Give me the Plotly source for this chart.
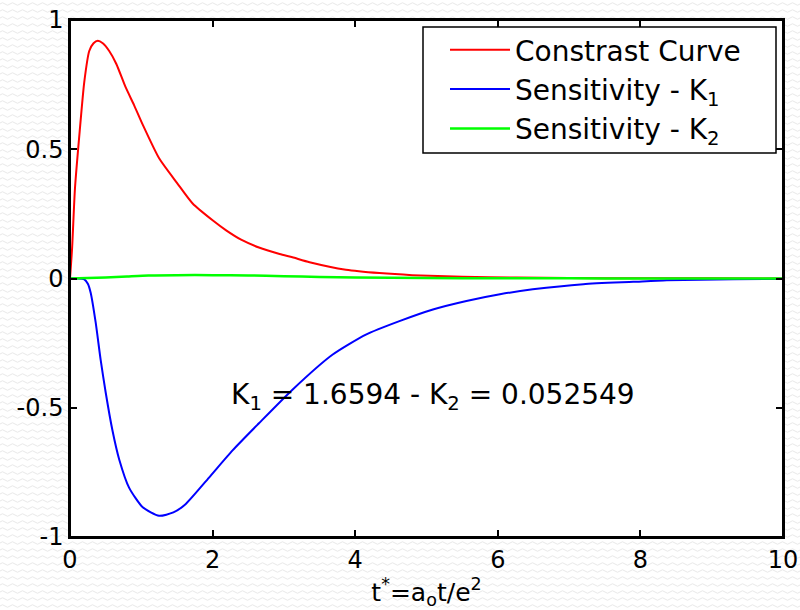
import base64
import plotly.graph_objects as go

# ---- data ----
t_contrast = [0, 0.03, 0.07, 0.136, 0.2, 0.27, 0.33, 0.39, 0.46, 0.55, 0.65, 0.78, 0.9, 1.02, 1.25,
              1.5, 1.72, 2.0, 2.19, 2.4, 2.65, 2.94, 3.12, 3.36, 3.87, 4.34, 4.8, 5.5, 6.26, 7, 8, 9, 10]
contrast = [0, 0.12, 0.35, 0.57, 0.76, 0.88, 0.91, 0.92, 0.91, 0.88, 0.83, 0.74, 0.67, 0.595, 0.465,
            0.37, 0.29, 0.225, 0.186, 0.15, 0.12, 0.095, 0.082, 0.063, 0.034, 0.021, 0.013, 0.0065,
            0.004, 0.002, 0.001, 0.0005, 0.0003]

t_k1 = [0, 0.1, 0.2, 0.25, 0.29, 0.36, 0.43, 0.5, 0.595, 0.69, 0.83, 1.02, 1.25, 1.45, 1.62, 1.95,
        2.28, 2.65, 3.12, 3.68, 4.15, 4.62, 5.09, 5.56, 6.03, 6.49, 7.2, 7.9, 8.37, 9.3, 10]
sens_k1 = [0, 0, -0.003, -0.02, -0.055, -0.17, -0.315, -0.44, -0.587, -0.70, -0.81, -0.885, -0.918,
           -0.905, -0.873, -0.77, -0.665, -0.56, -0.43, -0.295, -0.217, -0.165, -0.12, -0.087, -0.061,
           -0.042, -0.022, -0.013, -0.007, -0.003, -0.001]

t_k2 = [0, 0.5, 0.8, 1.1, 1.5, 2.0, 2.5, 3.0, 3.5, 4.0, 5.0, 6.0, 7.0, 8.0, 10]
sens_k2 = [0, 0.004, 0.008, 0.012, 0.013, 0.013, 0.012, 0.009, 0.006, 0.004, 0.002, 0.001, 0.0005,
           0.0002, 0]

series_names = ["Constrast Curve", "Sensitivity - K<sub>1</sub>", "Sensitivity - K<sub>2</sub>"]
x_ticks = [0, 2, 4, 6, 8, 10]
x_ticklabels = ["0", "2", "4", "6", "8", "10"]
y_ticks = [-1, -0.5, 0, 0.5, 1]
y_ticklabels = ["-1", "-0.5", "0", "0.5", "1"]
annotation_text = "K<sub>1</sub> = 1.6594 - K<sub>2</sub> = 0.052549"
x_title = "t<sup>*</sup>=a<sub>o</sub>t/e<sup>2</sup>"
x_title_sub = "o"

FONT = "DejaVu Sans, Arial, sans-serif"

W, H = 800, 610
L, R, T, B = 70, W - 783, 20, H - 537
pw, ph = W - L - R, H - T - B


def px_x(p):
    return (p - L) / pw


def px_y(p):
    return (H - B - p) / ph


# page background texture (wavy light grey pattern), shown through a transparent paper
svg = """<svg xmlns='http://www.w3.org/2000/svg' width='10' height='7'>
<rect width='10' height='7' fill='white'/>
<path d='M0,4 Q2.5,1.5 5,4 T10,4' fill='none' stroke='#e9e9e9' stroke-width='1'/></svg>"""
svg_uri = "data:image/svg+xml;base64," + base64.b64encode(svg.encode()).decode()

fig = go.Figure()
fig.add_trace(go.Scatter(x=t_contrast, y=contrast, mode="lines", name=series_names[0],
                         legendgroup="a",
                         line=dict(color="#ff0000", width=2, shape="spline", smoothing=0.6)))
fig.add_trace(go.Scatter(x=t_k1, y=sens_k1, mode="lines", name=series_names[1],
                         legendgroup="b",
                         line=dict(color="#0000ff", width=2, shape="spline", smoothing=0.6)))
fig.add_trace(go.Scatter(x=t_k2, y=sens_k2, mode="lines", name=series_names[2],
                         legendgroup="c",
                         line=dict(color="#00ff00", width=2.5, shape="spline", smoothing=0.6)))

# axes frame
fig.add_shape(type="rect", xref="paper", yref="paper", x0=0, x1=1, y0=0, y1=1,
              line=dict(color="black", width=2), fillcolor="rgba(0,0,0,0)", layer="above")
# legend box
fig.add_shape(type="rect", xref="paper", yref="paper", x0=px_x(423), x1=px_x(776),
              y0=px_y(153), y1=px_y(27),
              line=dict(color="black", width=1.5), fillcolor="white", layer="below")

fig.add_annotation(x=2.23, y=-0.455, xref="x", yref="y", text=annotation_text, showarrow=False,
                   xanchor="left", yanchor="middle", font=dict(family=FONT, size=28, color="black"))
# stacked subscript under the exponent of the axis title (mostly cut off by the page edge)
fig.add_annotation(x=px_x(476), y=px_y(614), xref="paper", yref="paper",
                   text=x_title_sub, showarrow=False, xanchor="center", yanchor="middle",
                   font=dict(family=FONT, size=18, color="black"))

fig.update_layout(
    width=W, height=H,
    margin=dict(l=L, r=R, t=T, b=B, pad=0, autoexpand=False),
    paper_bgcolor="rgba(0,0,0,0)", plot_bgcolor="white",
    font=dict(family=FONT, size=24, color="black"),
    showlegend=True,
    legend=dict(x=px_x(445), y=px_y(25), xanchor="left", yanchor="top",
                bgcolor="rgba(0,0,0,0)", borderwidth=0,
                itemwidth=60, tracegroupgap=0, traceorder="grouped",
                font=dict(family=FONT, size=28, color="black")),
    xaxis=dict(range=[0, 10], tickvals=x_ticks, ticktext=x_ticklabels, ticks="inside", ticklen=7,
               tickcolor="black", tickwidth=1.5, showline=True, linecolor="black", linewidth=1.5,
               mirror="ticks", showgrid=False, zeroline=False, automargin=False,
               title=dict(text=x_title, font=dict(family=FONT, size=25), standoff=19)),
    yaxis=dict(range=[-1, 1], tickvals=y_ticks, ticktext=y_ticklabels, ticks="inside", ticklen=7,
               tickcolor="black", tickwidth=1.5, showline=True, linecolor="black", linewidth=1.5,
               mirror="ticks", showgrid=False, zeroline=False, automargin=False),
)

post = ("document.body.style.margin='0';document.body.style.overflow='hidden';"
        "document.body.style.backgroundColor='white';"
        "document.body.style.backgroundImage=\"url('" + svg_uri + "')\";")

fig.write_html("out.html", config={"displayModeBar": False}, post_script=post)
